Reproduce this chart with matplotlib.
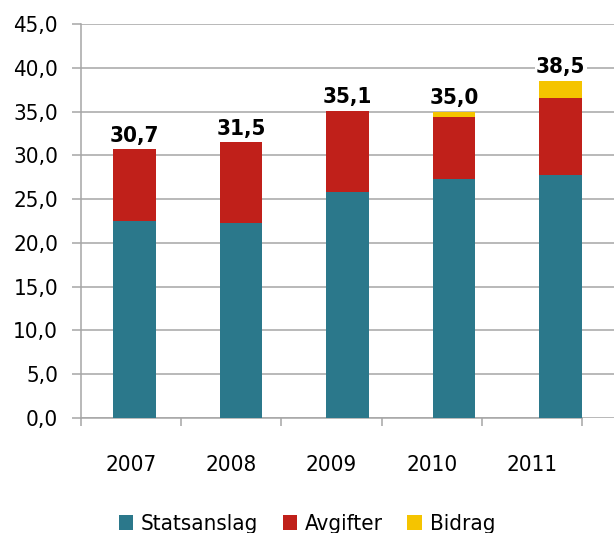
import matplotlib.pyplot as plt
import numpy as np

years = ["2007", "2008", "2009", "2010", "2011"]
statsanslag = [22.5, 22.3, 25.8, 27.3, 27.7]
avgifter = [8.2, 9.2, 9.3, 7.1, 8.8]
bidrag = [0.0, 0.0, 0.0, 0.6, 2.0]
totals = ["30,7", "31,5", "35,1", "35,0", "38,5"]

teal = "#2B788B"
red = "#C0201A"
yellow = "#F5C400"
grey = "#A6A6A6"

plt.rcParams["font.family"] = ["DejaVu Sans"]
plt.rcParams["font.stretch"] = "condensed"

fig = plt.figure(figsize=(6.14, 5.33), dpi=100)
ax = fig.add_axes([0.132, 0.216, 0.868, 0.739])

x = np.arange(len(years))
s = np.array(statsanslag)
a = np.array(avgifter)
b = np.array(bidrag)
w = 0.4
ax.bar(x, s, w, color=teal, label="Statsanslag", zorder=3)
ax.bar(x, a, w, bottom=s, color=red, label="Avgifter", zorder=3)
ax.bar(x, b, w, bottom=s + a, color=yellow, label="Bidrag", zorder=3)

for i, t in enumerate(totals):
    ax.text(x[i], s[i] + a[i] + b[i] + 0.4, t, ha="center", va="bottom",
            fontsize=16, fontweight="bold", zorder=4,
            bbox=dict(facecolor="white", edgecolor="none", pad=1))

ax.set_xlim(-0.5, 4.5)
ax.set_ylim(0, 45)
ax.set_yticks(np.arange(0, 46, 5))
ax.set_yticklabels([f"{v:.1f}".replace(".", ",") for v in np.arange(0, 46, 5)], fontsize=16)
ax.yaxis.grid(True, color=grey, lw=1.1, zorder=0)

# category axis is a bit narrower than the bar layout in the original
step = 0.94
ax.set_xticks([-0.5 + step * (i + 0.5) for i in range(len(years))])
ax.set_xticklabels(years, fontsize=16)
ax.set_xticks([-0.5 + step * k for k in range(len(years) + 1)], minor=True)
ax.tick_params(axis="x", which="major", length=0, pad=27)
ax.tick_params(axis="x", which="minor", length=6, width=1.1, color=grey, direction="out")
ax.tick_params(axis="y", length=6.5, width=1.1, color=grey, pad=10)

for sp in ["top", "right"]:
    ax.spines[sp].set_visible(False)
ax.spines["left"].set_color(grey)
ax.spines["left"].set_linewidth(1.1)
ax.spines["bottom"].set_color(grey)
ax.spines["bottom"].set_linewidth(1.1)
ax.spines["bottom"].set_bounds(-0.5, -0.5 + step * len(years))

fig.legend(loc="center", bbox_to_anchor=(0.5, 0.016), ncol=3, frameon=False,
           fontsize=16, handlelength=0.65, handleheight=0.65, handletextpad=0.35,
           columnspacing=1.1)

fig.savefig("out.png", dpi=100)
